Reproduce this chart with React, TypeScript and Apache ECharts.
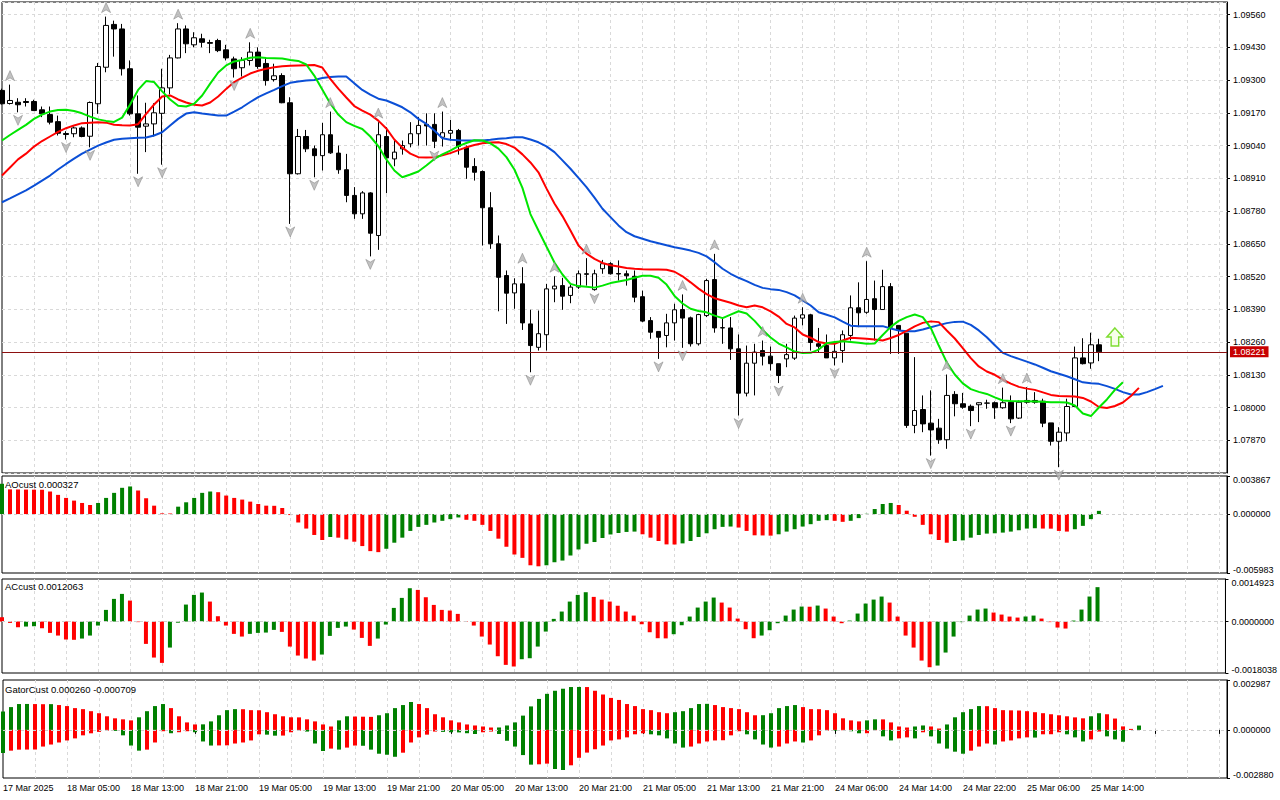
import React, { useEffect, useRef } from "react";
import * as echarts from "echarts";

const FONT = '"Liberation Sans", Arial, sans-serif';

// ---------- time axis ----------
const timeLabels = [
  "17 Mar 2025", "18 Mar 05:00", "18 Mar 13:00", "18 Mar 21:00", "19 Mar 05:00", "19 Mar 13:00",
  "19 Mar 21:00", "20 Mar 05:00", "20 Mar 13:00", "20 Mar 21:00", "21 Mar 05:00", "21 Mar 13:00",
  "21 Mar 21:00", "24 Mar 06:00", "24 Mar 14:00", "24 Mar 22:00", "25 Mar 06:00", "25 Mar 14:00",
];
const barsPerLabel = 8;
const slotCount = 154;

// ---------- OHLC (EURUSD H1) ----------
const openP = [
  1.09259, 1.09207, 1.09212, 1.09215, 1.09215, 1.09182, 1.09163, 1.09135, 1.09088, 1.09087,
  1.0911, 1.09077, 1.09206, 1.09351, 1.09521, 1.09503, 1.09345, 1.09166, 1.09117, 1.09126,
  1.09168, 1.09269, 1.09388, 1.09503, 1.0944, 1.09464, 1.09449, 1.09457, 1.0942, 1.09384,
  1.09349, 1.09378, 1.09411, 1.09366, 1.09302, 1.09318, 1.0921, 1.08928, 1.09076, 1.09027,
  1.09, 1.09083, 1.0901, 1.08944, 1.08842, 1.08769, 1.08852, 1.08683, 1.09076, 1.08987,
  1.09027, 1.09047, 1.09087, 1.09124, 1.09124, 1.09073, 1.09089, 1.091, 1.09033, 1.08957,
  1.08937, 1.08793, 1.0865, 1.08524, 1.08455, 1.08491, 1.08332, 1.08239, 1.08289, 1.08471,
  1.08484, 1.08445, 1.08478, 1.08531, 1.08468, 1.08551, 1.08571, 1.08532, 1.08531, 1.08521,
  1.0844, 1.08345, 1.08302, 1.08286, 1.08336, 1.08389, 1.08356, 1.08253, 1.08365, 1.08508,
  1.08317, 1.08316, 1.08233, 1.08057, 1.08176, 1.08226, 1.08204, 1.08174, 1.08193, 1.08196,
  1.08355, 1.08368, 1.08253, 1.08246, 1.08197, 1.08226, 1.08286, 1.08396, 1.08378, 1.08432,
  1.08389, 1.0848, 1.08326, 1.08295, 1.07929, 1.07992, 1.07938, 1.07918, 1.07872, 1.08052,
  1.08015, 1.08005, 1.08011, 1.08017, 1.08019, 1.07999, 1.08021, 1.07958, 1.08028, 1.08028,
  1.08025, 1.07939, 1.07866, 1.07899, 1.08004, 1.08197, 1.08177, 1.08249,
];
const highP = [
  1.09266, 1.09282, 1.09228, 1.09228, 1.09222, 1.09195, 1.09195, 1.09159, 1.09097, 1.09116,
  1.09116, 1.09215, 1.09368, 1.09552, 1.09536, 1.09523, 1.09378, 1.09239, 1.0921, 1.09208,
  1.09345, 1.094, 1.09526, 1.09517, 1.0949, 1.09484, 1.0946, 1.09464, 1.0944, 1.09393,
  1.09391, 1.0945, 1.0943, 1.09391, 1.09365, 1.09327, 1.09232, 1.09106, 1.09102, 1.0904,
  1.0913, 1.09175, 1.0904, 1.09007, 1.08875, 1.08859, 1.08855, 1.09133, 1.09113, 1.0906,
  1.0906, 1.09133, 1.09153, 1.09168, 1.09168, 1.09175, 1.09142, 1.09106, 1.0904, 1.0899,
  1.08941, 1.08855, 1.08683, 1.08544, 1.08513, 1.08557, 1.08388, 1.08385, 1.08491, 1.08521,
  1.08515, 1.08488, 1.08544, 1.08593, 1.08547, 1.08586, 1.08577, 1.08584, 1.08544, 1.08544,
  1.08464, 1.08359, 1.08303, 1.08372, 1.08412, 1.08449, 1.08361, 1.08372, 1.08511, 1.0861,
  1.08359, 1.08359, 1.0829, 1.08246, 1.08253, 1.08266, 1.08242, 1.08174, 1.08253, 1.08365,
  1.08398, 1.08372, 1.08316, 1.0829, 1.08255, 1.08306, 1.08445, 1.08497, 1.08581, 1.08504,
  1.08547, 1.08494, 1.08326, 1.08295, 1.082, 1.08048, 1.08068, 1.07955, 1.08131, 1.08065,
  1.08058, 1.08012, 1.08021, 1.08031, 1.08024, 1.08079, 1.08048, 1.08028, 1.08081, 1.08061,
  1.08035, 1.07939, 1.07922, 1.08035, 1.08242, 1.08275, 1.08297, 1.08273,
];
const lowP = [
  1.09203, 1.09203, 1.09172, 1.09195, 1.09177, 1.09153, 1.09124, 1.0908, 1.09064, 1.09073,
  1.09073, 1.09033, 1.09166, 1.09331, 1.09393, 1.09318, 1.09159, 1.08928, 1.09014, 1.09076,
  1.08964, 1.09243, 1.09386, 1.09407, 1.0943, 1.0943, 1.09407, 1.09411, 1.09378, 1.0931,
  1.09314, 1.09358, 1.09345, 1.09278, 1.09294, 1.09208, 1.08729, 1.08925, 1.09014, 1.08914,
  1.08941, 1.09007, 1.08928, 1.08815, 1.08749, 1.08749, 1.086, 1.08626, 1.08851, 1.08958,
  1.09004, 1.09033, 1.0904, 1.0904, 1.0903, 1.09036, 1.0906, 1.09004, 1.08908, 1.08901,
  1.08643, 1.0863, 1.08382, 1.08332, 1.08392, 1.08308, 1.0814, 1.08226, 1.08226, 1.08418,
  1.08388, 1.08414, 1.08471, 1.08484, 1.08464, 1.08531, 1.08528, 1.08504, 1.08484, 1.08418,
  1.08339, 1.08273, 1.08193, 1.08239, 1.08266, 1.08237, 1.08242, 1.08246, 1.08359, 1.08297,
  1.08253, 1.08189, 1.07968, 1.08044, 1.08048, 1.08167, 1.08147, 1.08097, 1.0816, 1.08189,
  1.08326, 1.08226, 1.0822, 1.08197, 1.08167, 1.08178, 1.08266, 1.08319, 1.08372, 1.08266,
  1.08388, 1.08213, 1.08213, 1.07919, 1.07898, 1.07902, 1.07809, 1.07856, 1.07836, 1.07965,
  1.07995, 1.07926, 1.07942, 1.07995, 1.07955, 1.07995, 1.07938, 1.07955, 1.08015, 1.08015,
  1.07922, 1.07849, 1.07763, 1.07866, 1.08001, 1.08171, 1.08154, 1.08184,
];
const closeP = [
  1.09206, 1.09219, 1.09202, 1.09211, 1.09179, 1.09166, 1.09133, 1.09089, 1.09084, 1.0911,
  1.09076, 1.09211, 1.09354, 1.09517, 1.09503, 1.09345, 1.09166, 1.09113, 1.09126, 1.0917,
  1.09269, 1.09388, 1.09503, 1.09444, 1.09468, 1.0945, 1.09446, 1.09417, 1.09388, 1.09345,
  1.09378, 1.09411, 1.09354, 1.09298, 1.09317, 1.0921, 1.08928, 1.09076, 1.09027, 1.09,
  1.09083, 1.09011, 1.08944, 1.08842, 1.08769, 1.08852, 1.08692, 1.09083, 1.08991, 1.09014,
  1.0904, 1.09087, 1.0912, 1.09118, 1.09057, 1.09091, 1.091, 1.09037, 1.08954, 1.08934,
  1.08793, 1.0865, 1.08517, 1.08454, 1.08491, 1.08336, 1.08246, 1.08293, 1.08471, 1.08482,
  1.08442, 1.08478, 1.08531, 1.08529, 1.08531, 1.08571, 1.08531, 1.0853, 1.08523, 1.08438,
  1.08343, 1.08299, 1.08279, 1.08336, 1.08388, 1.08355, 1.08253, 1.08369, 1.08504, 1.08316,
  1.08316, 1.08233, 1.08057, 1.08176, 1.0822, 1.08204, 1.08174, 1.08127, 1.0821, 1.08355,
  1.08368, 1.08258, 1.08243, 1.08197, 1.08223, 1.08289, 1.08396, 1.08376, 1.08429, 1.08389,
  1.0848, 1.08319, 1.08308, 1.07929, 1.07988, 1.07935, 1.07911, 1.07872, 1.08048, 1.08015,
  1.08001, 1.07988, 1.08019, 1.08018, 1.07999, 1.08019, 1.07955, 1.08021, 1.08021, 1.08021,
  1.07938, 1.07866, 1.07902, 1.08004, 1.08197, 1.08174, 1.08249, 1.08221,
];

// ---------- Alligator (shifted forward 8 / 5 / 3 bars) ----------
const jaw = [
  1.08815, 1.0883, 1.08846, 1.08862, 1.08881, 1.08901, 1.08921, 1.08945, 1.08967, 1.08988,
  1.09008, 1.09024, 1.0904, 1.09052, 1.09063, 1.09067, 1.09069, 1.09071, 1.09072, 1.0908,
  1.09093, 1.0912, 1.09146, 1.09167, 1.09172, 1.09167, 1.09163, 1.09159, 1.09159, 1.09175,
  1.09192, 1.09213, 1.09232, 1.09247, 1.09261, 1.09276, 1.09289, 1.09294, 1.09298, 1.093,
  1.09308, 1.09312, 1.09314, 1.09314, 1.09287, 1.09261, 1.09242, 1.09226, 1.09219, 1.09206,
  1.09192, 1.09172, 1.09146, 1.09126, 1.091, 1.09069, 1.09063, 1.09061, 1.0906, 1.0906,
  1.0906, 1.09063, 1.09067, 1.09069, 1.09073, 1.09073, 1.09064, 1.09053, 1.09037, 1.09014,
  1.08981, 1.08948, 1.08912, 1.08875, 1.08833, 1.08789, 1.08756, 1.08723, 1.08696, 1.0868,
  1.0867, 1.0866, 1.08652, 1.08644, 1.08636, 1.0863, 1.08623, 1.08614, 1.086, 1.08577,
  1.08551, 1.08531, 1.08515, 1.08502, 1.08487, 1.08475, 1.0847, 1.08467, 1.08458, 1.08445,
  1.08425, 1.08405, 1.08378, 1.08368, 1.08358, 1.08341, 1.08325, 1.08323, 1.08323, 1.08323,
  1.08323, 1.08314, 1.08306, 1.08303, 1.08303, 1.0831, 1.08319, 1.08327, 1.08335, 1.0834,
  1.08341, 1.08328, 1.08306, 1.08279, 1.08247, 1.08217, 1.08204, 1.08193, 1.08182, 1.08171,
  1.08158, 1.08144, 1.08134, 1.08124, 1.08112, 1.081, 1.08096, 1.08094, 1.08085, 1.08074,
  1.08061, 1.08052, 1.08052, 1.08061, 1.08073, 1.08086,
];
const teeth = [
  1.08921, 1.08953, 1.08985, 1.09008, 1.09036, 1.09058, 1.09076, 1.09094, 1.09109, 1.0912,
  1.09129, 1.09131, 1.09133, 1.09131, 1.09123, 1.09121, 1.0912, 1.09125, 1.09166, 1.09203,
  1.09235, 1.09239, 1.09223, 1.09211, 1.09202, 1.09199, 1.09211, 1.09235, 1.09265, 1.09292,
  1.0931, 1.09326, 1.09337, 1.09345, 1.09351, 1.09355, 1.09357, 1.09358, 1.09359, 1.0936,
  1.0935, 1.09305, 1.09266, 1.09231, 1.09197, 1.09179, 1.09163, 1.09139, 1.09108, 1.09064,
  1.09032, 1.09008, 1.08994, 1.08993, 1.08994, 1.09001, 1.0901, 1.09022, 1.09033, 1.09042,
  1.09049, 1.09052, 1.09053, 1.09046, 1.09032, 1.09005, 1.08973, 1.08934, 1.0887, 1.0881,
  1.0876, 1.08703, 1.08643, 1.08611, 1.0859, 1.08574, 1.08565, 1.0856, 1.08554, 1.08551,
  1.08549, 1.08548, 1.08548, 1.08547, 1.08539, 1.08521, 1.08497, 1.08472, 1.0845, 1.08434,
  1.08425, 1.08416, 1.08405, 1.08398, 1.08405, 1.08398, 1.08382, 1.08361, 1.08332, 1.08318,
  1.0829, 1.08277, 1.0826, 1.08254, 1.08253, 1.08266, 1.08277, 1.08275, 1.08273, 1.0827,
  1.08266, 1.08276, 1.08288, 1.08304, 1.08322, 1.08336, 1.08342, 1.08339, 1.08306, 1.08274,
  1.08236, 1.08196, 1.08163, 1.08143, 1.0813, 1.08111, 1.08095, 1.08082, 1.08075, 1.0807,
  1.0806, 1.0805, 1.08046, 1.08045, 1.08044, 1.08038, 1.08024, 1.08002, 1.07998, 1.08006,
  1.0802, 1.08046, 1.08078,
];
const lips = [
  1.0906, 1.09082, 1.09102, 1.09122, 1.09146, 1.09163, 1.09175, 1.09181, 1.09182, 1.09177,
  1.09168, 1.09155, 1.09144, 1.09138, 1.09134, 1.09151, 1.09203, 1.09261, 1.09296, 1.09292,
  1.09255, 1.09223, 1.09198, 1.09195, 1.09206, 1.09239, 1.09286, 1.0933, 1.09358, 1.09374,
  1.0938, 1.09389, 1.09391, 1.09388, 1.09387, 1.09386, 1.0938, 1.09376, 1.09362, 1.09318,
  1.09263, 1.09207, 1.09163, 1.09133, 1.09118, 1.09106, 1.09076, 1.09038, 1.08985, 1.08941,
  1.08914, 1.08925, 1.08937, 1.08961, 1.08987, 1.09005, 1.0902, 1.09038, 1.0905, 1.09061,
  1.0906, 1.09049, 1.09028, 1.08994, 1.08945, 1.08872, 1.08768, 1.08703, 1.08639, 1.08576,
  1.08528, 1.08491, 1.08482, 1.08479, 1.08476, 1.08484, 1.08494, 1.085, 1.08506, 1.08515,
  1.08523, 1.08523, 1.08515, 1.08488, 1.08443, 1.08413, 1.08392, 1.08383, 1.08378, 1.08365,
  1.08355, 1.08369, 1.08382, 1.08373, 1.08344, 1.08308, 1.08278, 1.08254, 1.08239, 1.08222,
  1.08216, 1.08217, 1.0823, 1.08255, 1.0826, 1.08263, 1.0826, 1.08257, 1.08253, 1.08254,
  1.08288, 1.0832, 1.08344, 1.08359, 1.08369, 1.08359, 1.08316, 1.08246, 1.08179, 1.08131,
  1.08096, 1.08073, 1.08062, 1.08054, 1.0804, 1.08028, 1.08026, 1.08025, 1.08025, 1.08024,
  1.08023, 1.08021, 1.08021, 1.0802, 1.08008, 1.07976, 1.07966, 1.08, 1.08032, 1.0807,
  1.081,
];

// ---------- Fractals, signal, last price ----------
const fractalUpBars = [1, 13, 22, 31, 41, 47, 55, 65, 69, 73, 85, 89, 95, 100, 108, 118, 125, 128];
const fractalDownBars = [2, 8, 11, 17, 20, 29, 36, 39, 46, 54, 66, 74, 82, 85, 92, 97, 104, 116, 121, 126, 132];
const signalBar = 139;
const signalPrice = 1.0828;
const lastPrice = 1.08221;

// ---------- Awesome Oscillator ----------
const aoValues = [
  0.003078, 0.00251, 0.0025, 0.00249, 0.00248, 0.00247, 0.002292, 0.00195, 0.001642, 0.001368,
  0.001129, 0.000923, 0.001129, 0.001642, 0.002155, 0.002668, 0.002805, 0.002394, 0.001608, 0.000855,
  0.00007, 0.00006, 0.000752, 0.001197, 0.001642, 0.002155, 0.002292, 0.002223, 0.001881, 0.001642,
  0.001471, 0.001265, 0.001026, 0.000855, 0.00084, 0.000616, -0.0001, -0.000855, -0.001471, -0.002121,
  -0.002634, -0.002326, -0.002394, -0.002565, -0.002805, -0.003249, -0.003762, -0.003865, -0.003523, -0.002907,
  -0.002394, -0.00171, -0.0013, -0.001094, -0.000855, -0.000684, -0.000513, -0.000342, -0.000581, -0.000684,
  -0.001094, -0.00171, -0.002497, -0.003318, -0.004104, -0.004446, -0.005199, -0.005301, -0.005199, -0.004891,
  -0.00472, -0.004207, -0.003591, -0.00301, -0.002839, -0.00243, -0.00207, -0.00192, -0.001813, -0.001778,
  -0.002052, -0.002394, -0.002736, -0.003078, -0.00309, -0.002976, -0.002736, -0.002326, -0.00195, -0.001539,
  -0.0013, -0.001265, -0.001368, -0.00171, -0.002155, -0.00217, -0.00219, -0.002052, -0.001778, -0.001539,
  -0.001265, -0.001026, -0.000684, -0.000616, -0.000684, -0.000787, -0.000684, -0.00041, 0.00003, 0.000513,
  0.001026, 0.001129, 0.000923, 0.000342, -0.000274, -0.001094, -0.002052, -0.002634, -0.002907, -0.002736,
  -0.002668, -0.002394, -0.002121, -0.001984, -0.00195, -0.001881, -0.001778, -0.001642, -0.001471, -0.001437,
  -0.001471, -0.00148, -0.00171, -0.001778, -0.001539, -0.001197, -0.000513, 0.000327,
];
const aoColors =
  "GRRRRRRRRR RRGGGGGRRR RRGGGGGRRR RRRRRRRRRR RGRRRRRRGG GGGGGGGGRR RRRRRRRRGG GGGGGGGGGG RRRRRGGGGG GGRRRRRGGG GGGGRRGGGG GGRRRRRRRG GGGGGGGGGG RRRRGGGG";
const aoAxisTicks = [0.003867, 0, -0.005983];

// ---------- Accelerator Oscillator ----------
const acValues = [
  0.000152, -0.000047, -0.000199, -0.000175, -0.000164, -0.000234, -0.000397, -0.000491, -0.000631, -0.00064,
  -0.000596, -0.000491, -0.00014, 0.000409, 0.000795, 0.00097, 0.000736, -0.00002, -0.000783, -0.001262,
  -0.001449, -0.000912, -0.00004, 0.000596, 0.000935, 0.001017, 0.000701, 0.000187, -0.00014, -0.000432,
  -0.000526, -0.000432, -0.000397, -0.000386, -0.000292, -0.000362, -0.000877, -0.001192, -0.001297, -0.001368,
  -0.001157, -0.000503, -0.000222, -0.000175, -0.000281, -0.000573, -0.000853, -0.000596, -0.000105, 0.000479,
  0.00083, 0.001169, 0.00111, 0.000853, 0.000584, 0.000409, 0.000386, 0.000269, 0.00002, -0.00014,
  -0.000526, -0.000806, -0.001216, -0.001519, -0.001578, -0.001321, -0.001286, -0.000877, -0.000351, 0.000094,
  0.000351, 0.000701, 0.000935, 0.001029, 0.000865, 0.00077, 0.000701, 0.000555, 0.000351, 0.00021,
  -0.000094, -0.000374, -0.000584, -0.00059, -0.000444, -0.000129, 0.000175, 0.000491, 0.000701, 0.000842,
  0.000666, 0.000491, 0.000105, -0.000269, -0.000584, -0.000491, -0.000304, -0.000058, 0.00021, 0.000421,
  0.000526, 0.00052, 0.000561, 0.000456, 0.000175, -0.000058, 0.000035, 0.000281, 0.000631, 0.000771,
  0.000877, 0.000666, 0.000175, -0.000491, -0.000912, -0.001368, -0.001601, -0.001543, -0.001087, -0.000526,
  -0.00002, 0.00021, 0.000421, 0.000456, 0.000316, 0.000245, 0.000175, 0.00014, 0.000175, 0.00021,
  0.000105, -0.00002, -0.00021, -0.000245, 0.000035, 0.000421, 0.000877, 0.0012063,
];
const acColors =
  "RRRGGRRRRR GGGGGGRRRR RGGGGGRRRR RGGGGRRRRR GGGGRRRGGG GGRRRRRRRR RRRRRGGGGG GGGGRRRRRR RRRRGGGGGG RRRRRGGGGG GRGRRRGGGG GRRRRRRGGG GGGGRRRRGG RRRRGGGG";
const acAxisTicks = [0.0014923, 0, -0.0018038];

// ---------- Gator Oscillator ----------
const gatorUp = [
  0.0011, 0.001365, 0.001548, 0.001553, 0.001546, 0.001538, 0.001542, 0.001487, 0.001426, 0.001304,
  0.001243, 0.00112, 0.000998, 0.000815, 0.000693, 0.000632, 0.00057, 0.000754, 0.00112, 0.001426,
  0.001548, 0.001304, 0.000815, 0.000448, 0.000326, 0.000332, 0.000509, 0.000876, 0.001182, 0.001243,
  0.001238, 0.001182, 0.001175, 0.001059, 0.000937, 0.000815, 0.000754, 0.00075, 0.000632, 0.000509,
  0.000326, 0.000204, 0.00057, 0.000815, 0.0008, 0.00079, 0.00078, 0.000876, 0.000998, 0.001304,
  0.001487, 0.00167, 0.001548, 0.001304, 0.000937, 0.000754, 0.00057, 0.000448, 0.000326, 0.000265,
  0.000204, 0.000143, 0.000145, 0.000265, 0.000448, 0.000855, 0.001406, 0.001854, 0.002159, 0.002343,
  0.002465, 0.002566, 0.00257, 0.002565, 0.002343, 0.002119, 0.001915, 0.001793, 0.001548, 0.001426,
  0.001243, 0.001182, 0.001059, 0.000998, 0.001059, 0.00112, 0.001304, 0.001548, 0.00156, 0.001487,
  0.001365, 0.001304, 0.001243, 0.001059, 0.000876, 0.00088, 0.000998, 0.001304, 0.001426, 0.001487,
  0.001365, 0.001243, 0.00124, 0.001182, 0.000998, 0.000693, 0.00057, 0.000509, 0.00057, 0.000632,
  0.00063, 0.000448, 0.000204, 0.000143, 0.000204, 0.000265, 0.000204, 0.000081, 0.000326, 0.000754,
  0.001059, 0.001243, 0.001426, 0.00142, 0.001304, 0.001182, 0.00117, 0.00116, 0.00112, 0.001059,
  0.001, 0.000937, 0.000876, 0.000815, 0.00075, 0.000693, 0.000815, 0.000998, 0.000937, 0.00068,
  0.00021, 0.00006, 0.00026,
];
const gatorUpColors =
  "GGGGRRGRRR RRRRRRRGGG GRRRRGGGGG RRRRRRRRRR RRGGRRRGGG GGRRRRRRRR RRGGGGGGGG GGGRRRRRRR RRRRGGGGGR RRRRRGGGGG RRRRRRRRGG RRRRGGRRGG GGGRRRRRRR RRRRRRGGRR RRG";
const gatorDown = [
  -0.001385, -0.001243, -0.001182, -0.001178, -0.001175, -0.000998, -0.000876, -0.000754, -0.000632, -0.000509,
  -0.000326, -0.000204, -0.00012, -0.00004, -0.00006, -0.000326, -0.000937, -0.001243, -0.001182, -0.000754,
  -0.00008, -0.0002, -0.00014, -0.00008, -0.00014, -0.000693, -0.000937, -0.00093, -0.000925, -0.000815,
  -0.000754, -0.000632, -0.000265, -0.000285, -0.000346, -0.00034, -0.000143, -0.00004, -0.0001, -0.000815,
  -0.001264, -0.00112, -0.00118, -0.00106, -0.000937, -0.00095, -0.001182, -0.001426, -0.001487, -0.001609,
  -0.001365, -0.000754, -0.000448, -0.000285, -0.0001, -0.00012, -0.000143, -0.00015, -0.0002, -0.000245,
  -0.000143, -0.0001, -0.000245, -0.000652, -0.000998, -0.001508, -0.00208, -0.00206, -0.00202, -0.00234,
  -0.0024, -0.00212, -0.00167, -0.00136, -0.00116, -0.000937, -0.000632, -0.00057, -0.000448, -0.000265,
  -0.000204, -0.000265, -0.000326, -0.000509, -0.000815, -0.001059, -0.000998, -0.000815, -0.000693, -0.000632,
  -0.00062, -0.000326, -0.000081, -0.000265, -0.00057, -0.000876, -0.001059, -0.000998, -0.000815, -0.000693,
  -0.000754, -0.000632, -0.000326, -0.00004, -0.000045, -0.00002, -0.000081, -0.000204, -0.0002, -0.00002,
  -0.000387, -0.000632, -0.000509, -0.000448, -0.000509, -0.000143, -0.000387, -0.000815, -0.00112, -0.001304,
  -0.001426, -0.001243, -0.000998, -0.000815, -0.000876, -0.000693, -0.000632, -0.000509, -0.000448, -0.00046,
  -0.000265, -0.00026, -0.000143, -0.000265, -0.000448, -0.000693, -0.00057, -0.0001, -0.000387, -0.00057,
  -0.000709,
];
const gatorDownColors =
  "GRRRRRRRRR RRRRGGGGRR RGRRGGGRRR RRRGGRRRGG GRGRRGGGGG RRRRRGGGGG RRGGGGGRRG GRRRRRRRRR RGGGGGRRRR RRRGGGGRRR GRRRGRGGRR GGRRGRGGGG GRRRGRRRRG RRRGGGRRGGG";
const gatorAxisTicks = [0.002987, 0, -0.00288];

// ---------- styling constants ----------
const GREEN = "#008000";
const RED = "#ff0000";
const GRID_LINE = { color: "#d9d9d9", type: [3, 3] as any, width: 1 };
const gridBox = { left: 2, right: 53, show: true, borderColor: "#000", borderWidth: 1 };

function flags(s: string) {
  return s.replace(/\s+/g, "");
}

function buildOption() {
  const categories = Array.from({ length: slotCount }, (_, i) =>
    i % barsPerLabel === 0 && timeLabels[i / barsPerLabel] ? timeLabels[i / barsPerLabel] : ""
  );

  const xAxis = (gi: number, showLabels: boolean) => ({
    type: "category",
    gridIndex: gi,
    data: categories,
    boundaryGap: false,
    axisLine: { show: false },
    axisTick: {
      show: showLabels,
      interval: (i: number) => i % barsPerLabel === 0,
      length: 4,
      lineStyle: { color: "#000" },
    },
    axisLabel: {
      show: showLabels,
      interval: 0,
      align: "left",
      fontSize: 9,
      fontFamily: FONT,
      color: "#000",
      margin: 5,
    },
    splitLine: {
      show: true,
      interval: (i: number) => i % 4 === 0 && i > 0,
      lineStyle: GRID_LINE,
    },
  });

  const subAxis = (gi: number, ticks: number[], decimals: number) => {
    const hi = ticks[0];
    const lo = ticks[ticks.length - 1];
    return {
      type: "value",
      gridIndex: gi,
      position: "right",
      min: lo,
      max: hi,
      axisLine: { show: true, lineStyle: { color: "#000" } },
      axisTick: { show: true, length: 3, customValues: ticks, lineStyle: { color: "#000" } },
      axisLabel: {
        customValues: ticks,
        margin: 6,
        fontSize: 9,
        fontFamily: FONT,
        color: "#000",
        formatter: (v: number) => {
          const s = v.toFixed(decimals);
          if (Math.abs(v - hi) < 1e-12) return `{t|${s}}`;
          if (Math.abs(v - lo) < 1e-12) return `{b|${s}}`;
          return s;
        },
        rich: {
          t: { padding: [8, 0, 0, 0], fontSize: 9, fontFamily: FONT, color: "#000" },
          b: { padding: [0, 0, 7, 0], fontSize: 9, fontFamily: FONT, color: "#000" },
        },
      },
      splitLine: { show: false },
    };
  };

  const zeroLine = {
    silent: true,
    symbol: ["none", "none"],
    label: { show: false },
    lineStyle: { color: "#cfcfcf", type: [3, 3], width: 1 },
    data: [{ yAxis: 0 }],
  };

  const colored = (vals: number[], cs: string) =>
    vals.map((v, i) => ({ value: v, itemStyle: { color: cs[i] === "G" ? GREEN : RED } }));

  const aoC = flags(aoColors);
  const acC = flags(acColors);
  const guC = flags(gatorUpColors);
  const gdC = flags(gatorDownColors);

  const headerStyle = { fontSize: 9.5, fontFamily: FONT, fill: "#000" };

  return {
    animation: false,
    backgroundColor: "#ffffff",
    textStyle: { fontFamily: FONT },
    grid: [
      { ...gridBox, top: 2, height: 471 },
      { ...gridBox, top: 476, height: 97 },
      { ...gridBox, top: 579, height: 94 },
      { ...gridBox, top: 680, height: 98 },
    ],
    xAxis: [xAxis(0, false), xAxis(1, false), xAxis(2, false), xAxis(3, true)],
    yAxis: [
      {
        type: "value",
        gridIndex: 0,
        position: "right",
        min: 1.0774,
        max: 1.0961,
        interval: 0.0013,
        axisLine: { show: true, lineStyle: { color: "#000" } },
        axisTick: { show: true, length: 3, lineStyle: { color: "#000" } },
        axisLabel: {
          margin: 6,
          fontSize: 9,
          fontFamily: FONT,
          color: "#000",
          showMinLabel: false,
          showMaxLabel: false,
          formatter: (v: number) => v.toFixed(5),
        },
        splitLine: { show: true, lineStyle: GRID_LINE },
      },
      subAxis(1, aoAxisTicks, 6),
      subAxis(2, acAxisTicks, 7),
      subAxis(3, gatorAxisTicks, 6),
    ],
    graphic: [
      { type: "text", left: 5, top: 479, z: 100, style: { ...headerStyle, text: "AOcust " + aoValues[aoValues.length - 1].toFixed(6) } },
      { type: "text", left: 5, top: 581, z: 100, style: { ...headerStyle, text: "ACcust " + acValues[acValues.length - 1].toFixed(7) } },
      {
        type: "text",
        left: 5,
        top: 684,
        z: 100,
        style: {
          ...headerStyle,
          text:
            "GatorCust " +
            gatorUp[gatorUp.length - 1].toFixed(6) +
            " " +
            gatorDown[gatorDown.length - 1].toFixed(6),
        },
      },
    ],
    series: [
      {
        type: "candlestick",
        xAxisIndex: 0,
        yAxisIndex: 0,
        barWidth: 5,
        data: openP.map((o, i) => [o, closeP[i], lowP[i], highP[i]]),
        itemStyle: {
          color: "#ffffff",
          color0: "#000000",
          borderColor: "#000000",
          borderColor0: "#000000",
          borderWidth: 1,
        },
        z: 2,
      },
      {
        type: "line",
        xAxisIndex: 0,
        yAxisIndex: 0,
        data: jaw,
        showSymbol: false,
        lineStyle: { color: "#0b4fd6", width: 2 },
        z: 4,
        markLine: {
          silent: true,
          precision: 5,
          symbol: ["none", "none"],
          lineStyle: { color: "#8c1010", type: "solid", width: 1 },
          label: {
            show: true,
            position: "end",
            distance: 3,
            formatter: () => lastPrice.toFixed(5),
            backgroundColor: "#c80000",
            color: "#ffffff",
            fontSize: 9,
            fontFamily: FONT,
            padding: [1, 3, 1, 3],
          },
          data: [{ yAxis: lastPrice }],
        },
      },
      {
        type: "line",
        xAxisIndex: 0,
        yAxisIndex: 0,
        data: teeth,
        showSymbol: false,
        lineStyle: { color: "#ff0000", width: 2 },
        z: 4,
      },
      {
        type: "line",
        xAxisIndex: 0,
        yAxisIndex: 0,
        data: lips,
        showSymbol: false,
        lineStyle: { color: "#00e600", width: 2 },
        z: 4,
      },
      {
        type: "scatter",
        xAxisIndex: 0,
        yAxisIndex: 0,
        data: fractalUpBars.map((i) => [i, highP[i]]),
        symbol: "path://M5,0 L10,11 L5,8 L0,11 Z",
        symbolSize: [9, 10],
        symbolOffset: [0, -9],
        itemStyle: { color: "#b3b3b3", borderColor: "#7d7d7d", borderWidth: 0.6 },
        z: 5,
      },
      {
        type: "scatter",
        xAxisIndex: 0,
        yAxisIndex: 0,
        data: fractalDownBars.map((i) => [i, lowP[i]]),
        symbol: "path://M0,0 L5,3 L10,0 L5,11 Z",
        symbolSize: [9, 10],
        symbolOffset: [0, 8],
        itemStyle: { color: "#b3b3b3", borderColor: "#7d7d7d", borderWidth: 0.6 },
        z: 5,
      },
      {
        type: "scatter",
        xAxisIndex: 0,
        yAxisIndex: 0,
        data: [[signalBar, signalPrice]],
        symbol: "path://M8.5,0 L17,9 L12.5,9 L12.5,18 L4.5,18 L4.5,9 L0,9 Z",
        symbolSize: [16, 18],
        itemStyle: { color: "#f4ffe4", borderColor: "#5fd400", borderWidth: 1.5 },
        z: 5,
      },
      {
        type: "bar",
        xAxisIndex: 1,
        yAxisIndex: 1,
        barWidth: 4,
        data: colored(aoValues, aoC),
        markLine: zeroLine,
      },
      {
        type: "bar",
        xAxisIndex: 2,
        yAxisIndex: 2,
        barWidth: 4,
        data: colored(acValues, acC),
        markLine: zeroLine,
      },
      {
        type: "bar",
        xAxisIndex: 3,
        yAxisIndex: 3,
        barWidth: 4,
        barGap: "-100%",
        data: colored(gatorUp, guC),
        markLine: zeroLine,
      },
      {
        type: "bar",
        xAxisIndex: 3,
        yAxisIndex: 3,
        barWidth: 4,
        barGap: "-100%",
        data: colored(gatorDown, gdC),
      },
    ],
  };
}

export default function App() {
  const ref = useRef<HTMLDivElement>(null);
  useEffect(() => {
    document.body.style.margin = "0";
    const chart = echarts.init(ref.current as HTMLDivElement, null, { renderer: "svg" });
    chart.setOption(buildOption() as any);
    return () => chart.dispose();
  }, []);
  return (
    <div
      ref={ref}
      style={{ position: "absolute", left: 0, top: 0, width: 1280, height: 800, background: "#fff" }}
    />
  );
}
